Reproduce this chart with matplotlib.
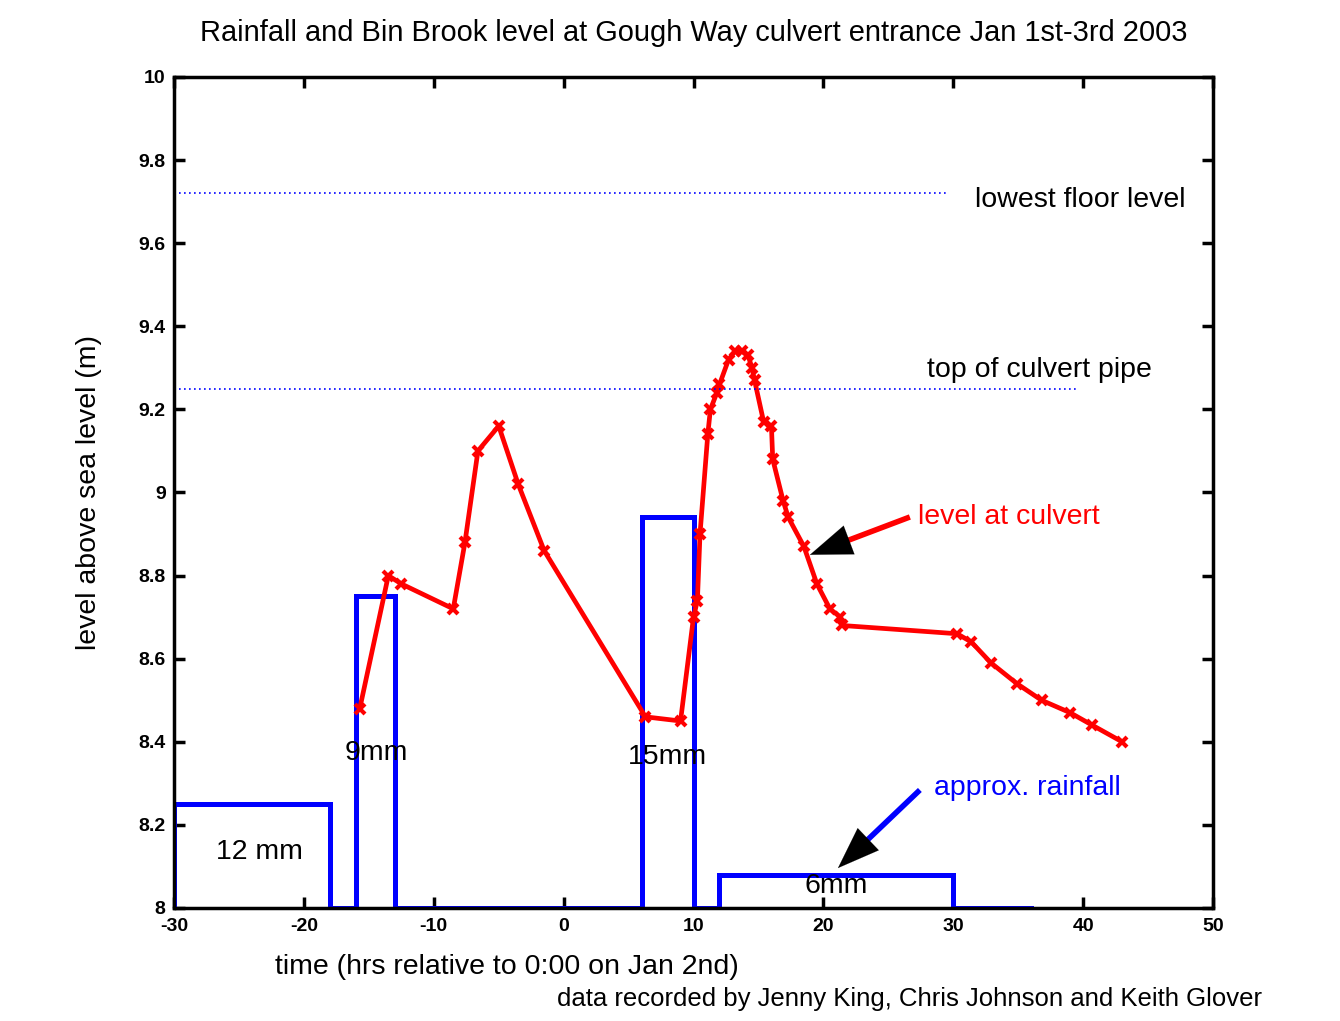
import matplotlib
matplotlib.use("Agg")
import matplotlib.pyplot as plt

plt.rcParams['font.family'] = ['Liberation Sans', 'DejaVu Sans']

# river level at culvert (hrs relative to 0:00 Jan 2nd, m above sea level)
level_t = [-15.7, -13.5, -12.5, -8.5, -7.6, -6.6, -5.0, -3.5, -1.5,
           6.3, 9.0, 10.0, 10.3, 10.5, 11.1, 11.3, 11.8, 12.0, 12.7, 13.2, 13.7,
           14.2, 14.5, 14.7, 15.4, 16.0, 16.1, 16.9, 17.3, 18.5, 19.5, 20.5,
           21.3, 21.4, 30.3, 31.4, 32.9, 34.9, 36.8, 39.0, 40.7, 43.0]
level_v = [8.48, 8.80, 8.78, 8.72, 8.88, 9.10, 9.16, 9.02, 8.86,
           8.46, 8.45, 8.70, 8.74, 8.90, 9.14, 9.20, 9.24, 9.26, 9.32, 9.34, 9.34,
           9.33, 9.30, 9.27, 9.17, 9.16, 9.08, 8.98, 8.94, 8.87, 8.78, 8.72,
           8.70, 8.68, 8.66, 8.64, 8.59, 8.54, 8.50, 8.47, 8.44, 8.40]

# approx rainfall, stepped (base 8 m, 0.25 m per mm/hr)
rain_t = [-30, -30, -18, -18, -16, -16, -13, -13, 6, 6, 10, 10, 12, 12, 30, 30, 36]
rain_v = [8.0, 8.25, 8.25, 8.0, 8.0, 8.75, 8.75, 8.0, 8.0, 8.94, 8.94, 8.0, 8.0, 8.08, 8.08, 8.0, 8.0]

floor_level = 9.72
pipe_top = 9.25

fig = plt.figure(figsize=(13.4, 10.21), dpi=100)
ax = fig.add_axes([0.1299, 0.1107, 0.7753, 0.8139])

ax.plot(rain_t, rain_v, color="blue", lw=3.6, solid_joinstyle="miter")
ax.plot(level_t, level_v, color="red", lw=3.4, marker="x", ms=7.5, mew=3)
ax.plot([-29.6, 29.7], [floor_level] * 2, color="blue", ls=(0, (1, 2)), lw=1.2)
ax.plot([-29.6, 39.7], [pipe_top] * 2, color="blue", ls=(0, (1, 2)), lw=1.2)

fs = 20.5
ax.text(31.7, 9.704, "lowest floor level", fontsize=fs, va="center")
ax.text(28.0, 9.295, "top of culvert pipe", fontsize=fs, va="center")
ax.text(27.3, 8.94, "level at culvert", fontsize=fs, va="center", color="red")
ax.text(28.5, 8.289, "approx. rainfall", fontsize=fs, va="center", color="blue")
ax.text(-23.4, 8.135, "12 mm", fontsize=fs, ha="center", va="center")
ax.text(-14.45, 8.373, "9mm", fontsize=fs, ha="center", va="center")
ax.text(8.0, 8.363, "15mm", fontsize=fs, ha="center", va="center")
ax.text(20.96, 8.053, "6mm", fontsize=fs, ha="center", va="center")


def arrow(x0, y0, x1, y1, col):
    # coloured shaft, black filled head
    f = 0.72
    xm, ym = x0 + f * (x1 - x0), y0 + f * (y1 - y0)
    ax.plot([x0, xm], [y0, ym], color=col, lw=4, solid_capstyle="butt")
    ax.annotate("", xy=(x1, y1), xytext=(xm, ym),
                arrowprops=dict(arrowstyle="-|>,head_length=1.5,head_width=0.55",
                                mutation_scale=20, color="black", lw=0.1,
                                shrinkA=0, shrinkB=0))


arrow(26.66, 8.941, 18.96, 8.85, "red")
arrow(27.43, 8.284, 21.12, 8.096, "blue")

ax.set_xlim(-30, 50)
ax.set_ylim(8, 10)
xt = list(range(-30, 51, 10))
ax.set_xticks(xt)
ax.set_xticklabels([str(v) for v in xt])
ax.set_yticks([8, 8.2, 8.4, 8.6, 8.8, 9, 9.2, 9.4, 9.6, 9.8, 10])
ax.set_yticklabels(["8", "8.2", "8.4", "8.6", "8.8", "9", "9.2", "9.4", "9.6", "9.8", "10"])
ax.tick_params(direction="in", length=8, width=2.5, top=True, right=True,
               labelsize=14)
ax.tick_params(axis="x", pad=7)
ax.tick_params(axis="y", pad=6)
for lab in ax.get_xticklabels() + ax.get_yticklabels():
    lab.set_fontweight("bold")
for s in ax.spines.values():
    s.set_linewidth(2.5)

ax.set_ylabel("level above sea level (m)", fontsize=fs, labelpad=26)
fig.text(507 / 1340, 1 - 967 / 1021, "time (hrs relative to 0:00 on Jan 2nd)",
         fontsize=fs, ha="center", va="center")
fig.text(1262 / 1340, 1 - 999 / 1021,
         "data recorded by Jenny King, Chris Johnson and Keith Glover",
         fontsize=18.5, ha="right", va="center")
fig.text(694 / 1340, 1 - 33 / 1021,
         "Rainfall and Bin Brook level at Gough Way culvert entrance Jan 1st-3rd 2003",
         fontsize=20.9, ha="center", va="center")

fig.savefig("out.png", dpi=100, facecolor="white")
